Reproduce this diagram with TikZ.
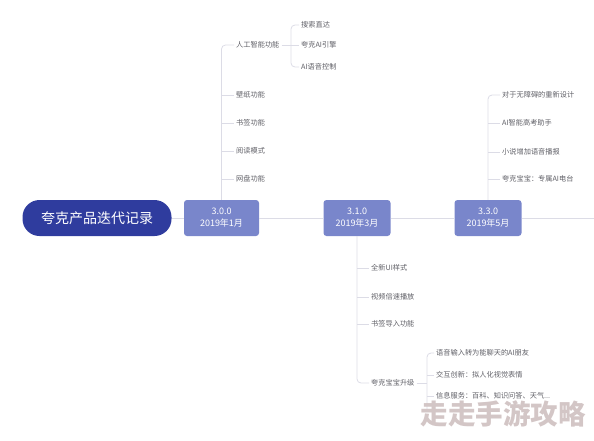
\documentclass[tikz,border=0pt]{standalone}
\usepackage{fontspec}
\setmainfont{Noto Sans CJK SC}
\usetikzlibrary{positioning,calc}
\definecolor{rootblue}{HTML}{2F3C9E}
\definecolor{verblue}{HTML}{7986CB}
\definecolor{linegray}{HTML}{DCDCE6}
\definecolor{labelgray}{HTML}{5F5F66}
\definecolor{markgray}{HTML}{D3C6C6}

\begin{document}
\begin{tikzpicture}[x=1pt,y=-1pt]
    \tikzstyle{root} = [draw=none, fill=rootblue, text=white, rounded corners=17pt,
        minimum width=149pt, minimum height=36pt, font=\fontsize{14}{16}\selectfont]
    \tikzstyle{version} = [draw=none, fill=verblue, text=white, rounded corners=3pt,
        minimum height=36pt, align=center, font=\fontsize{9}{12}\selectfont]
    \tikzstyle{leaf} = [anchor=west, inner sep=2pt, text=labelgray, font=\fontsize{7.2}{9}\selectfont]
    \tikzstyle{spine} = [draw=linegray, line width=1pt]
    \tikzstyle{branch} = [draw=linegray, line width=0.8pt, rounded corners=4pt]

    \useasboundingbox (0,0) rectangle (594,440);

    % Main line
    \node[root] (root) at (97,218) {夸克产品迭代记录};
    \node[version, minimum width=75pt] (v300) at (221.5,218) {3.0.0\\2019年1月};
    \node[version, minimum width=67pt] (v310) at (357,218) {3.1.0\\2019年3月};
    \node[version, minimum width=67pt] (v330) at (488,218) {3.3.0\\2019年5月};
    \coordinate (spineend) at (594,218);
    \draw[spine] (root.east) -- (v300.west);
    \draw[spine] (v300.east) -- (v310.west);
    \draw[spine] (v310.east) -- (v330.west);
    \draw[spine] (v330.east) -- (spineend);

    % Version 3.0.0
    \node[leaf] (a1) at (234,45) {人工智能功能};
    \node[leaf] (a2) at (234,95) {壁纸功能};
    \node[leaf] (a3) at (234,123) {书签功能};
    \node[leaf] (a4) at (234,151) {阅读模式};
    \node[leaf] (a5) at (234,179) {网盘功能};
    \draw[branch] (v300.north) |- (a1.west);
    \foreach \n in {a2,a3,a4,a5}
        \draw[branch] (v300.north |- \n.west) -- (\n.west);

    \node[leaf] (b1) at (299,25) {搜索直达};
    \node[leaf] (b2) at (299,45) {夸克AI引擎};
    \node[leaf] (b3) at (299,67) {AI语音控制};
    \coordinate (k1) at (291,45);
    \draw[branch] (a1.east) -- (b2.west);
    \draw[branch] (b1.west) -| (k1) |- (b3.west);

    % Version 3.1.0
    \node[leaf] (c1) at (369,268) {全新UI样式};
    \node[leaf] (c2) at (369,297) {视频倍速播放};
    \node[leaf] (c3) at (369,324) {书签导入功能};
    \node[leaf] (c4) at (369,383) {夸克宝宝升级};
    \draw[branch] (v310.south) |- (c4.west);
    \foreach \n in {c1,c2,c3}
        \draw[branch] (v310.south |- \n.west) -- (\n.west);

    \node[leaf] (d1) at (434,353) {语音输入转为能聊天的AI朋友};
    \node[leaf] (d2) at (434,375) {交互创新：拟人化视觉表情};
    \node[leaf] (d3) at (434,396) {信息服务：百科、知识问答、天气...};
    \coordinate (k2) at (427,383);
    \coordinate (k3) at (427,412);
    \draw[branch] (c4.east) -- (k2);
    \draw[branch] (d1.west) -| (k2) -- (k3);
    \draw[branch] (k2 |- d2.west) -- (d2.west);
    \draw[branch] (k2 |- d3.west) -- (d3.west);

    % Watermark
    \node[text=markgray, font=\fontsize{27.5}{30}\selectfont\bfseries, inner sep=0pt] (mark) at (503,414) {走走手游攻略};

    % Version 3.3.0
    \node[leaf] (e1) at (500,95) {对于无障碍的重新设计};
    \node[leaf] (e2) at (500,123) {AI智能高考助手};
    \node[leaf] (e3) at (500,152) {小说增加语音播报};
    \node[leaf] (e4) at (500,179) {夸克宝宝：专属AI电台};
    \draw[branch] (v330.north) |- (e1.west);
    \foreach \n in {e2,e3,e4}
        \draw[branch] (v330.north |- \n.west) -- (\n.west);
\end{tikzpicture}
\end{document}
